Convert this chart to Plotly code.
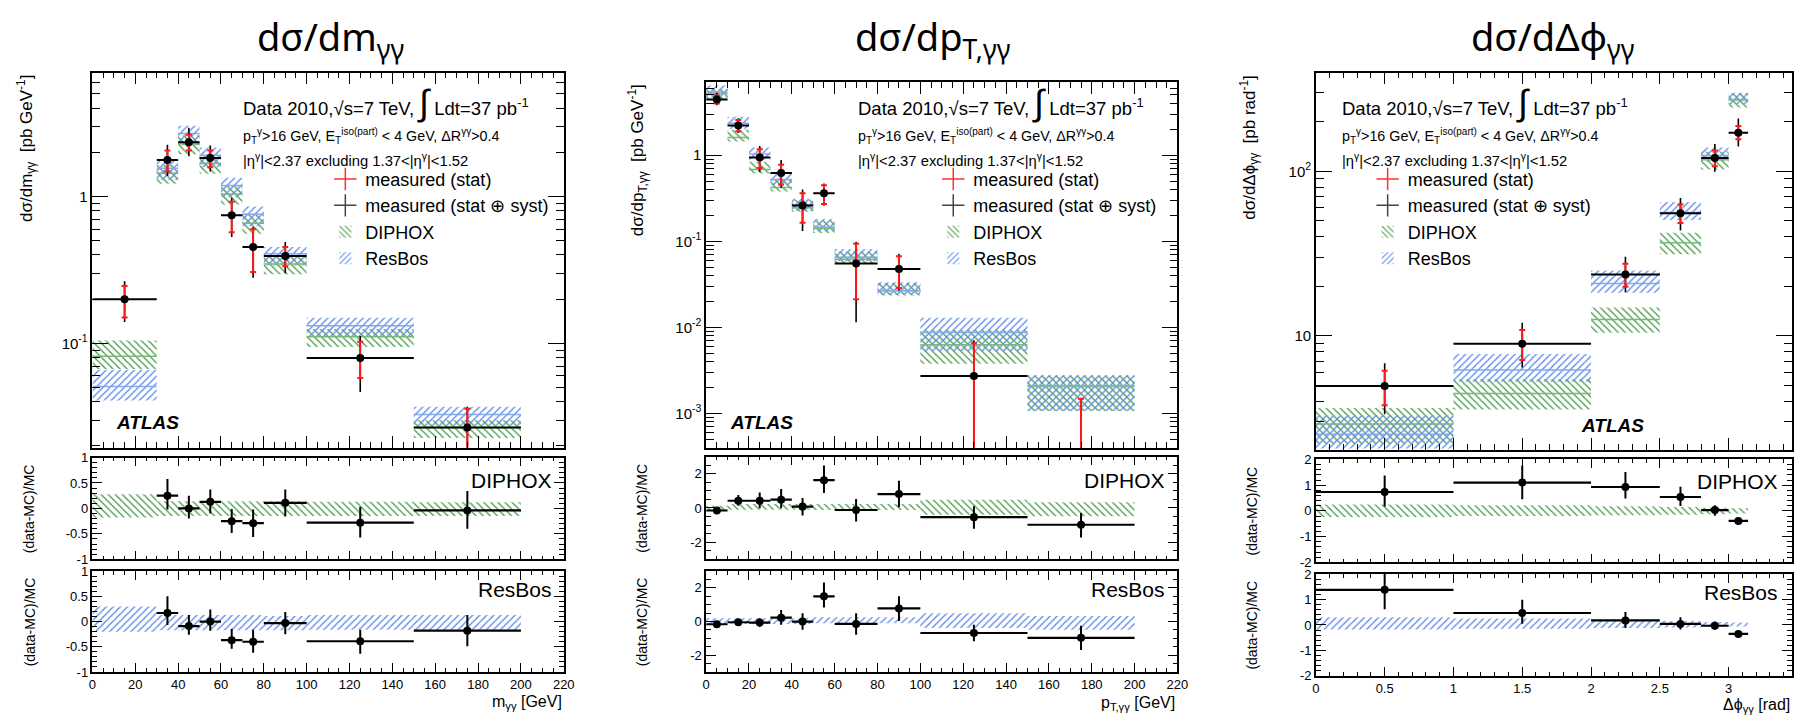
import plotly.graph_objects as go

W, H = 1817, 727
FONT = "Liberation Sans, Arial, Helvetica, sans-serif"
TFONT = "Noto Sans, DejaVu Sans, sans-serif"
GREEN = "#4e9e4e"
BLUE = "#5f8ce8"
GREEN_LINE = "#78b878"
BLUE_LINE = "#86a6f0"

# ---------------- Panel 1 : d sigma / d m_gg ----------------
m_edges = [0, 30, 40, 50, 60, 70, 80, 100, 150, 200]
m_val = [0.200, 1.77, 2.34, 1.83, 0.745, 0.453, 0.394, 0.0796, 0.0267]
m_stat_hi = [0.246, 2.06, 2.63, 2.06, 0.92, 0.598, 0.453, 0.1026, 0.0358]
m_stat_lo = [0.150, 1.48, 2.06, 1.58, 0.57, 0.306, 0.335, 0.058, 0.010]
m_tot_hi = [0.265, 2.25, 2.94, 2.23, 0.98, 0.62, 0.49, 0.112, 0.037]
m_tot_lo = [0.140, 1.38, 1.88, 1.48, 0.53, 0.28, 0.30, 0.0467, 0.010]
m_diphox = [0.0816, 1.44, 2.28, 1.68, 1.04, 0.657, 0.347, 0.111, 0.0267]
m_resbos = [0.0509, 1.56, 2.69, 1.91, 1.19, 0.756, 0.408, 0.132, 0.0327]
m_dip_up = [0.28, 0.14, 0.14, 0.14, 0.14, 0.14, 0.14, 0.13, 0.12]
m_dip_dn = [-0.18, -0.15, -0.15, -0.15, -0.15, -0.15, -0.15, -0.15, -0.15]
m_res_up = [0.30, 0.13, 0.13, 0.13, 0.13, 0.13, 0.11, 0.13, 0.13]
m_res_dn = [-0.20, -0.17, -0.17, -0.17, -0.17, -0.17, -0.17, -0.16, -0.16]
m_rd = [None, 0.25, 0.00, 0.13, -0.25, -0.29, 0.11, -0.28, -0.04]
m_rd_hi = [None, 0.58, 0.25, 0.37, -0.01, -0.02, 0.37, 0.03, 0.34]
m_rd_lo = [None, -0.02, -0.20, -0.10, -0.48, -0.56, -0.16, -0.57, -0.40]
m_rr = [None, 0.17, -0.09, 0.00, -0.37, -0.40, -0.03, -0.39, -0.18]
m_rr_hi = [None, 0.50, 0.13, 0.24, -0.15, -0.16, 0.19, -0.16, 0.13]
m_rr_lo = [None, -0.07, -0.26, -0.18, -0.54, -0.62, -0.25, -0.64, -0.49]

# ---------------- Panel 2 : d sigma / d pT_gg ----------------
pt_edges = [0, 10, 20, 30, 40, 50, 60, 80, 100, 150, 200]
pt_val = [4.44, 2.21, 0.942, 0.62, 0.261, 0.360, 0.0552, 0.0477, 0.00272, 0.0001]
pt_stat_hi = [4.93, 2.56, 1.17, 0.776, 0.360, 0.448, 0.0933, 0.067, 0.00653, 0.00148]
pt_stat_lo = [3.97, 1.89, 0.711, 0.456, 0.164, 0.270, 0.0212, 0.0287, 0.00001, 0.00001]
pt_tot_hi = [5.3, 2.68, 1.28, 0.877, 0.40, 0.468, 0.099, 0.0718, 0.0071, 0.00148]
pt_tot_lo = [3.8, 1.81, 0.636, 0.418, 0.132, 0.259, 0.0115, 0.0268, 0.00001, 0.00001]
pt_diphox = [5.2, 1.60, 0.68, 0.42, 0.245, 0.142, 0.062, 0.0266, 0.0063, 0.00205]
pt_resbos = [5.4, 2.35, 1.03, 0.52, 0.262, 0.145, 0.065, 0.0268, 0.0087, 0.00210]
pt_dip_up = [0.13, 0.23, 0.23, 0.23, 0.23, 0.23, 0.23, 0.23, 0.48, 0.33]
pt_dip_dn = [-0.15, -0.10, -0.10, -0.10, -0.10, -0.12, -0.12, -0.12, -0.40, -0.48]
pt_res_up = [0.19, 0.19, 0.19, 0.19, 0.19, 0.25, 0.25, 0.25, 0.49, 0.33]
pt_res_dn = [-0.14, -0.14, -0.14, -0.14, -0.14, -0.10, -0.10, -0.10, -0.39, -0.49]
pt_rd = [-0.15, 0.42, 0.42, 0.48, 0.08, 1.62, -0.12, 0.81, -0.54, -0.98]
pt_rd_hi = [-0.02, 0.75, 0.90, 1.10, 0.58, 2.48, 0.52, 1.58, 0.10, -0.29]
pt_rd_lo = [-0.28, 0.13, -0.02, -0.02, -0.44, 0.87, -0.79, 0.04, -1.21, -1.73]
pt_rr = [-0.16, -0.04, -0.06, 0.23, 0.00, 1.50, -0.14, 0.78, -0.68, -0.97]
pt_rr_hi = [-0.04, 0.16, 0.19, 0.68, 0.49, 2.33, 0.49, 1.51, -0.19, -0.25]
pt_rr_lo = [-0.28, -0.25, -0.33, -0.19, -0.49, 0.83, -0.78, 0.04, -1.17, -1.69]

# ---------------- Panel 3 : d sigma / d dphi_gg ----------------
phi_edges = [0, 1, 2, 2.5, 2.8, 3.0, 3.1416]
phi_val = [4.95, 8.96, 23.6, 55.7, 120.7, 172]
phi_stat_hi = [6.14, 10.86, 27.5, 63.0, 133.9, 188.8]
phi_stat_lo = [3.79, 7.13, 19.9, 48.5, 107.6, 157]
phi_tot_hi = [6.81, 12.0, 30.3, 69.0, 146.8, 209.6]
phi_tot_lo = [3.34, 6.43, 18.4, 43.8, 99.6, 141.6]
phi_diphox = [2.91, 4.46, 12.6, 36.9, 118, 272]
phi_resbos = [2.52, 6.2, 20.8, 56.2, 125, 274]
phi_dip_up = [0.25, 0.22, 0.18, 0.15, 0.12, 0.10]
phi_dip_dn = [-0.24, -0.20, -0.17, -0.15, -0.13, -0.10]
phi_res_up = [0.30, 0.25, 0.20, 0.16, 0.12, 0.10]
phi_res_dn = [-0.18, -0.15, -0.12, -0.10, -0.08, -0.06]
phi_rd = [0.735, 1.10, 0.93, 0.54, 0.03, -0.39]
phi_rd_hi = [1.38, 1.77, 1.51, 0.94, 0.22, -0.33]
phi_rd_lo = [0.17, 0.45, 0.48, 0.19, -0.19, -0.45]
phi_rr = [1.38, 0.47, 0.18, 0.04, -0.03, -0.35]
phi_rr_hi = [2.2, 0.99, 0.51, 0.30, 0.14, -0.29]
phi_rr_lo = [0.62, 0.05, -0.12, -0.18, -0.18, -0.41]

# ---------------- text ----------------
titles = ["dσ/dm<sub>γγ</sub>", "dσ/dp<sub>T,γγ</sub>", "dσ/dΔϕ<sub>γγ</sub>"]
ytitles = ["dσ/dm<sub>γγ</sub>  [pb GeV<sup>-1</sup>]",
           "dσ/dp<sub>T,γγ</sub>  [pb GeV<sup>-1</sup>]",
           "dσ/dΔϕ<sub>γγ</sub>  [pb rad<sup>-1</sup>]"]
xtitles = ["m<sub>γγ</sub> [GeV]", "p<sub>T,γγ</sub> [GeV]", "Δϕ<sub>γγ</sub> [rad]"]
ratio_title = "(data-MC)/MC"
legend_names = ["measured (stat)", "measured (stat ⊕ syst)", "DIPHOX", "ResBos"]
info1 = "Data 2010,√s=7 TeV, <span style='font-size:36px'>∫</span> Ldt=37 pb<sup>-1</sup>"
info2 = "p<sub>T</sub><sup>γ</sup>&gt;16 GeV, E<sub>T</sub><sup>iso(part)</sup> &lt; 4 GeV, ΔR<sup>γγ</sup>&gt;0.4"
info3 = "|η<sup>γ</sup>|&lt;2.37 excluding 1.37&lt;|η<sup>γ</sup>|&lt;1.52"

main_ticks = [[0.1, 1], [0.001, 0.01, 0.1, 1], [10, 100]]
main_ticktext = [["10<sup>-1</sup>", "1"],
                 ["10<sup>-3</sup>", "10<sup>-2</sup>", "10<sup>-1</sup>", "1"],
                 ["10", "10<sup>2</sup>"]]
ratio_ticks = [[-1, -0.5, 0, 0.5, 1], [-2, 0, 2], [-2, -1, 0, 1, 2]]
ratio_ticktext = [["-1", "-0.5", "0", "0.5", "1"], ["-2", "0", "2"], ["-2", "-1", "0", "1", "2"]]

# ---------------- layout geometry (pixels) ----------------
P = [
    dict(xdom=(89.2, 564.4), main=(67, 450), r1=(460, 564), r2=(576, 679),
         xrange=[0, 220], xd=20, xm=5, yrange=[-1.711, 0.844], rrange=[-1, 1], rminor=0.1,
         title_x=329, ytitle_x=22, rtitle_x=26, info_x=239, leg_x=324, atlas=(145, 424),
         lab_r=555, lab_y=(483, 595), xt_y=710),
    dict(xdom=(708, 1183.2), main=(77, 450), r1=(459, 564), r2=(576, 679),
         xrange=[0, 220], xd=20, xm=5, yrange=[-3.398, 0.845], rrange=[-3, 3], rminor=0.5,
         title_x=936, ytitle_x=639, rtitle_x=643, info_x=859, leg_x=937, atlas=(764, 424),
         lab_r=1173, lab_y=(483, 595), xt_y=711),
    dict(xdom=(1322.8, 1802.5), main=(67, 452), r1=(462, 567), r2=(579, 683),
         xrange=[0, 3.458], xd=0.5, xm=0.1, yrange=[0.308, 2.601], rrange=[-2, 2], rminor=0.2,
         title_x=1562, ytitle_x=1255, rtitle_x=1258, info_x=1347, leg_x=1375, atlas=(1622, 427),
         lab_r=1791, lab_y=(485, 598), xt_y=713),
]

DATA = [
    dict(edges=m_edges, val=m_val, shi=m_stat_hi, slo=m_stat_lo, thi=m_tot_hi, tlo=m_tot_lo,
         dip=m_diphox, res=m_resbos, du=m_dip_up, dd=m_dip_dn, ru=m_res_up, rdn=m_res_dn,
         rd=m_rd, rdh=m_rd_hi, rdl=m_rd_lo, rr=m_rr, rrh=m_rr_hi, rrl=m_rr_lo),
    dict(edges=pt_edges, val=pt_val, shi=pt_stat_hi, slo=pt_stat_lo, thi=pt_tot_hi, tlo=pt_tot_lo,
         dip=pt_diphox, res=pt_resbos, du=pt_dip_up, dd=pt_dip_dn, ru=pt_res_up, rdn=pt_res_dn,
         rd=pt_rd, rdh=pt_rd_hi, rdl=pt_rd_lo, rr=pt_rr, rrh=pt_rr_hi, rrl=pt_rr_lo),
    dict(edges=phi_edges, val=phi_val, shi=phi_stat_hi, slo=phi_stat_lo, thi=phi_tot_hi, tlo=phi_tot_lo,
         dip=phi_diphox, res=phi_resbos, du=phi_dip_up, dd=phi_dip_dn, ru=phi_res_up, rdn=phi_res_dn,
         rd=phi_rd, rdh=phi_rd_hi, rdl=phi_rd_lo, rr=phi_rr, rrh=phi_rr_hi, rrl=phi_rr_lo),
]


def fx(px):
    return px / W


def fy(py):
    return 1 - py / H


def aname(i, l):
    return f"{l}axis" if i == 1 else f"{l}axis{i}"


def aref(i, l):
    return l if i == 1 else f"{l}{i}"


def sub(a, b):
    return [None if (x is None or y is None) else x - y for x, y in zip(a, b)]


fig = go.Figure()
layout = dict(width=W, height=H, margin=dict(l=0, r=0, t=0, b=0),
              paper_bgcolor="white", plot_bgcolor="white", barmode="overlay",
              showlegend=True, font=dict(family=FONT, color="black"))
annotations = []

minor_log = [k * 10.0 ** d for d in range(-5, 4) for k in range(2, 10)]


def band_bar(xa, ya, centers, widths, base, height, color, shape, name, legend, show, rank):
    return go.Bar(x=centers, y=height, base=base, width=widths, xaxis=xa, yaxis=ya,
                  marker=dict(color="rgba(0,0,0,0)", line=dict(width=0),
                              pattern=dict(shape=shape, fgcolor=color, bgcolor="rgba(0,0,0,0)",
                                           size=5, solidity=0.28, fillmode="replace")),
                  name=name, legend=legend, showlegend=show, legendrank=rank,
                  hoverinfo="skip")


def center_line(xa, ya, edges, vals, color):
    xs, ys = [], []
    for a, b, v in zip(edges[:-1], edges[1:], vals):
        xs += [a, b, None]
        ys += [v, v, None]
    return go.Scatter(x=xs, y=ys, mode="lines", line=dict(color=color, width=1.5),
                      xaxis=xa, yaxis=ya, showlegend=False, hoverinfo="skip")


for p, (geo, d) in enumerate(zip(P, DATA)):
    im, i1, i2 = 3 * p + 1, 3 * p + 2, 3 * p + 3
    leg = "legend" if p == 0 else f"legend{p + 1}"
    edges = d["edges"]
    centers = [(a + b) / 2 for a, b in zip(edges[:-1], edges[1:])]
    widths = [b - a for a, b in zip(edges[:-1], edges[1:])]
    halfw = [w / 2 for w in widths]
    xa, ya = aref(im, "x"), aref(im, "y")

    # --- main: MC bands
    for vals, up, dn, col, lcol, shape, name, rank in [
        (d["dip"], d["du"], d["dd"], GREEN, GREEN_LINE, "\\", "DIPHOX", 3),
        (d["res"], d["ru"], d["rdn"], BLUE, BLUE_LINE, "/", "ResBos", 4),
    ]:
        base = [v * (1 + l) for v, l in zip(vals, dn)]
        hgt = [v * (u - l) for v, u, l in zip(vals, up, dn)]
        fig.add_trace(band_bar(xa, ya, centers, widths, base, hgt, col, shape, name, leg, True, rank))
        fig.add_trace(center_line(xa, ya, edges, vals, lcol))

    # --- main: data
    fig.add_trace(go.Scatter(x=centers, y=d["val"], mode="markers", xaxis=xa, yaxis=ya,
                             marker=dict(size=2, color="rgba(0,0,0,0)"),
                             error_y=dict(type="data", symmetric=False, array=sub(d["thi"], d["val"]),
                                          arrayminus=sub(d["val"], d["tlo"]), color="black",
                                          thickness=1.6, width=0),
                             showlegend=False, hoverinfo="skip"))
    fig.add_trace(go.Scatter(x=centers, y=d["val"], mode="markers", xaxis=xa, yaxis=ya,
                             marker=dict(size=2, color="rgba(0,0,0,0)"),
                             error_y=dict(type="data", symmetric=False, array=sub(d["shi"], d["val"]),
                                          arrayminus=sub(d["val"], d["slo"]), color="#ff1a1a",
                                          thickness=2, width=3),
                             showlegend=False, hoverinfo="skip"))
    fig.add_trace(go.Scatter(x=centers, y=d["val"], mode="markers", xaxis=xa, yaxis=ya,
                             marker=dict(size=8, color="black"),
                             error_x=dict(type="data", array=halfw, color="black", thickness=2, width=0),
                             showlegend=False, hoverinfo="skip"))
    # legend keys for measurements
    fig.add_trace(go.Scatter(x=[None], y=[None], mode="markers", xaxis=xa, yaxis=ya,
                             marker=dict(symbol="cross-thin", size=16,
                                         line=dict(color="#ff3030", width=1.5)),
                             name=legend_names[0], legend=leg, legendrank=1))
    fig.add_trace(go.Scatter(x=[None], y=[None], mode="markers", xaxis=xa, yaxis=ya,
                             marker=dict(symbol="cross-thin", size=16,
                                         line=dict(color="#444444", width=1.5)),
                             name=legend_names[1], legend=leg, legendrank=2))

    # --- ratio panels
    for iax, up, dn, col, shape, rv, rh, rl in [
        (i1, d["du"], d["dd"], GREEN, "\\", d["rd"], d["rdh"], d["rdl"]),
        (i2, d["ru"], d["rdn"], BLUE, "/", d["rr"], d["rrh"], d["rrl"]),
    ]:
        rxa, rya = aref(iax, "x"), aref(iax, "y")
        fig.add_trace(band_bar(rxa, rya, centers, widths, dn, [u - l for u, l in zip(up, dn)],
                               col, shape, "band", leg, False, 10))
        fig.add_trace(go.Scatter(x=centers, y=rv, mode="markers", xaxis=rxa, yaxis=rya,
                                 marker=dict(size=8, color="black"),
                                 error_y=dict(type="data", symmetric=False, array=sub(rh, rv),
                                              arrayminus=sub(rv, rl), color="black",
                                              thickness=2, width=0),
                                 error_x=dict(type="data", array=halfw, color="black",
                                              thickness=2.2, width=0),
                                 showlegend=False, hoverinfo="skip"))

    # --- axes
    xdom = [fx(geo["xdom"][0]), fx(geo["xdom"][1])]
    common = dict(showline=True, linecolor="black", linewidth=1.5, mirror="allticks",
                  ticks="inside", tickcolor="black", showgrid=False, zeroline=False,
                  tickfont=dict(family=FONT, size=13, color="black"))
    for iax, rows in [(im, geo["main"]), (i1, geo["r1"]), (i2, geo["r2"])]:
        xcfg = dict(common, domain=xdom, anchor=aref(iax, "y"), range=geo["xrange"],
                    tickmode="linear", tick0=0, dtick=geo["xd"], ticklen=12 if iax == im else 9,
                    minor=dict(ticks="inside", dtick=geo["xm"], tick0=0,
                               ticklen=6 if iax == im else 4, tickcolor="black"),
                    showticklabels=(iax == i2))
        if iax != im:
            xcfg["matches"] = aref(im, "x")
        layout[aname(iax, "x")] = xcfg
        ydom = [fy(rows[1]), fy(rows[0])]
        if iax == im:
            ycfg = dict(common, domain=ydom, anchor=aref(iax, "x"), type="log",
                        range=geo["yrange"], tickmode="array", tickvals=main_ticks[p],
                        ticktext=main_ticktext[p], ticklen=16,
                        tickfont=dict(family=FONT, size=15, color="black"),
                        minor=dict(ticks="inside", tickvals=minor_log, ticklen=8, tickcolor="black"))
        else:
            ycfg = dict(common, domain=ydom, anchor=aref(iax, "x"), range=geo["rrange"],
                        tickmode="array", tickvals=ratio_ticks[p], ticktext=ratio_ticktext[p],
                        ticklen=10,
                        minor=dict(ticks="inside", dtick=geo["rminor"], tick0=0, ticklen=5,
                                   tickcolor="black"))
        layout[aname(iax, "y")] = ycfg

    # --- legend
    layout[leg] = dict(x=fx(geo["leg_x"]), y=fy(157), xanchor="left", yanchor="top",
                       bgcolor="rgba(0,0,0,0)", borderwidth=0, tracegroupgap=0,
                       font=dict(family=FONT, size=18, color="black"), itemwidth=30,
                       traceorder="normal")

    # --- annotations
    annotations.append(dict(text=titles[p], x=fx(geo["title_x"]), y=fy(32), xref="paper", yref="paper",
                            xanchor="center", yanchor="middle", showarrow=False,
                            font=dict(family=TFONT, size=38, color="black")))
    annotations.append(dict(text=ytitles[p], x=fx(geo["ytitle_x"]), y=fy(geo["main"][0]),
                            xref="paper", yref="paper", textangle=-90, xanchor="center",
                            yanchor="top", showarrow=False, font=dict(family=FONT, size=17)))
    for rows in (geo["r1"], geo["r2"]):
        annotations.append(dict(text=ratio_title, x=fx(geo["rtitle_x"]), y=fy((rows[0] + rows[1]) / 2),
                                xref="paper", yref="paper", textangle=-90, xanchor="center",
                                yanchor="middle", showarrow=False, font=dict(family=FONT, size=14)))
    annotations.append(dict(text=xtitles[p], x=fx(geo["xdom"][1]), y=fy(geo["xt_y"]), xref="paper",
                            yref="paper", xanchor="right", yanchor="middle", showarrow=False,
                            font=dict(family=FONT, size=16)))
    annotations.append(dict(text=info1, x=fx(geo["info_x"]), y=fy(98), xref="paper", yref="paper",
                            xanchor="left", yanchor="middle", showarrow=False,
                            font=dict(family=FONT, size=18.5)))
    annotations.append(dict(text=info2, x=fx(geo["info_x"]), y=fy(132), xref="paper", yref="paper",
                            xanchor="left", yanchor="middle", showarrow=False,
                            font=dict(family=FONT, size=14.3)))
    annotations.append(dict(text=info3, x=fx(geo["info_x"]), y=fy(156), xref="paper", yref="paper",
                            xanchor="left", yanchor="middle", showarrow=False,
                            font=dict(family=FONT, size=14.8)))
    annotations.append(dict(text="<b><i>ATLAS</i></b>", x=fx(geo["atlas"][0]), y=fy(geo["atlas"][1]),
                            xref="paper", yref="paper", xanchor="center", yanchor="middle",
                            showarrow=False, font=dict(family=FONT, size=19)))
    for lab, yy in zip(["DIPHOX", "ResBos"], geo["lab_y"]):
        annotations.append(dict(text=lab, x=fx(geo["lab_r"]), y=fy(yy), xref="paper", yref="paper",
                                xanchor="right", yanchor="middle", showarrow=False,
                                font=dict(family=FONT, size=21)))

layout["annotations"] = annotations
fig.update_layout(**layout)
fig.write_html("out.html")
